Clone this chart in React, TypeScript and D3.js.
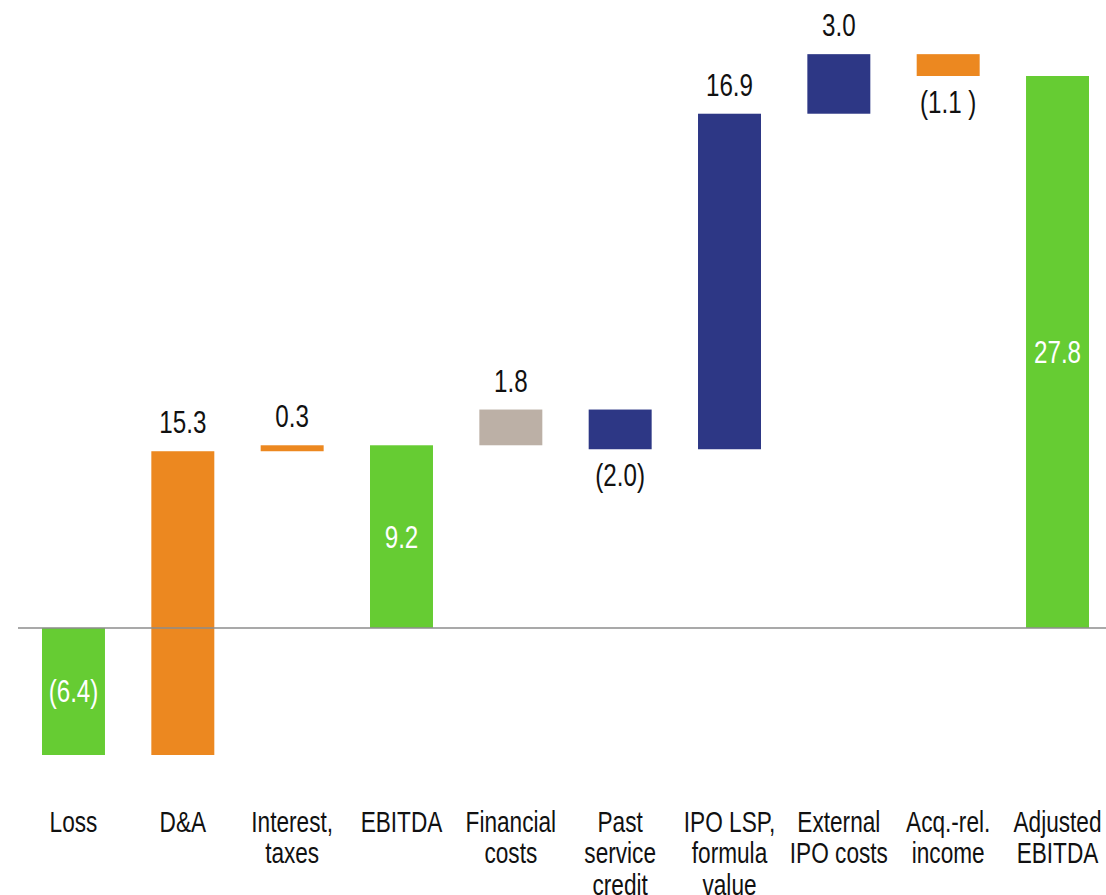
import React from "react";
import * as d3 from "d3";

// bridge from reported loss to adjusted EBITDA (EUR m)
const categories = [
  ["Loss"],
  ["D&A"],
  ["Interest,", "taxes"],
  ["EBITDA"],
  ["Financial", "costs"],
  ["Past", "service", "credit"],
  ["IPO LSP,", "formula", "value"],
  ["External", "IPO costs"],
  ["Acq.-rel.", "income"],
  ["Adjusted", "EBITDA"],
];
const values = [-6.4, 15.3, 0.3, 9.2, 1.8, -2.0, 16.9, 3.0, -1.1, 27.8];
const kinds = ["total", "delta", "delta", "total", "delta", "delta", "delta", "delta", "delta", "total"];
const groups = ["result", "adjustment", "adjustment", "result", "financial", "special", "special", "special", "adjustment", "result"];
const valueLabels = ["(6.4)", "15.3", "0.3", "9.2", "1.8", "(2.0)", "16.9", "3.0", "(1.1 )", "27.8"];

const colors = {
  result: "#66cc33",
  adjustment: "#ec8820",
  financial: "#bcb0a6",
  special: "#2d3785",
};

const W = 1106;
const H = 895;
const FONT = "'Liberation Sans', Arial, sans-serif";
// no narrow font installed, so squeeze the regular one
const SQUEEZE = 0.78;

export default function App() {
  // running totals for the floating bars
  let run = 0;
  const bars = values.map((v, i) => {
    let start, end;
    if (kinds[i] === "total") {
      start = 0;
      end = v;
    } else {
      start = run;
      end = run + v;
    }
    run = end;
    return { i, v, start, end, cat: categories[i], group: groups[i], label: valueLabels[i], kind: kinds[i] };
  });

  const x = d3
    .scaleBand()
    .domain(bars.map((d) => String(d.i)))
    .range([42, 1089])
    .paddingInner(0.424)
    .paddingOuter(0);

  const lo = d3.min(bars, (d) => Math.min(d.start, d.end));
  const y = d3.scaleLinear().domain([lo, 27.8]).range([755, 76]);

  const bw = x.bandwidth();

  return (
    <svg width={W} height={H} style={{ position: "absolute", left: 0, top: 0, background: "#fff" }} fontFamily={FONT}>
      {bars.map((d) => {
        const top = y(Math.max(d.start, d.end));
        const bot = y(Math.min(d.start, d.end));
        const cx = x(String(d.i)) + bw / 2;
        let ly, fill;
        if (d.kind === "total") {
          ly = (top + bot) / 2 + 11;
          fill = "#ffffff";
        } else if (d.v >= 0) {
          ly = top - 18;
          fill = "#111";
        } else {
          ly = bot + 37;
          fill = "#111";
        }
        return (
          <g key={d.i}>
            <rect x={x(String(d.i))} y={top} width={bw} height={Math.max(bot - top, 1)} fill={colors[d.group]} />
            <text transform={`translate(${cx},${ly}) scale(${SQUEEZE},1)`} textAnchor="middle" fontSize={31} fill={fill}>
              {d.label}
            </text>
            <text transform={`translate(${cx},832) scale(${SQUEEZE},1)`} textAnchor="middle" fontSize={29} fill="#111">
              {d.cat.map((line, k) => (
                <tspan key={k} x={0} dy={k === 0 ? 0 : 31.5}>
                  {line}
                </tspan>
              ))}
            </text>
          </g>
        );
      })}
      <line x1={18} x2={W} y1={y(0)} y2={y(0)} stroke="#8c8c8c" strokeWidth={1.6} />
    </svg>
  );
}
